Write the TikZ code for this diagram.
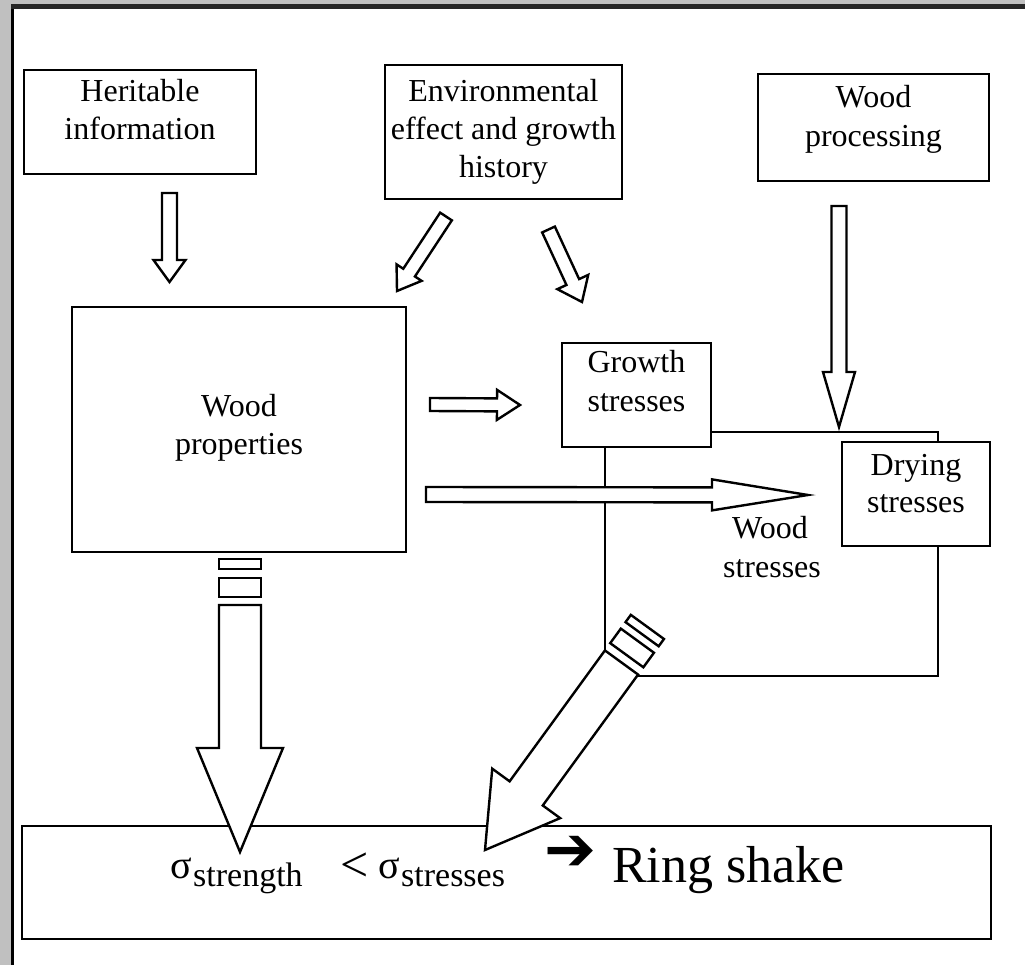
\documentclass[tikz,border=0pt]{standalone}
\usepackage{fontspec}
\setmainfont{Liberation Serif}
\newfontfamily\dejavu{DejaVu Sans}
\usetikzlibrary{calc}
\definecolor{framegray}{RGB}{192,192,192}
\newcommand\blockarrow[5]{% #1 tail, #2 tip, #3 shaft half width, #4 head half width, #5 head length
  \draw[arrowline] ($(#1)!#3!90:(#2)$) -- ($(#2)!#5!(#1)!#3!90:(#2)$) -- ($(#2)!#5!(#1)!#4!90:(#2)$) -- (#2)
    -- ($(#2)!#5!(#1)!#4!-90:(#2)$) -- ($(#2)!#5!(#1)!#3!-90:(#2)$) -- ($(#1)!#3!-90:(#2)$) -- cycle;}
\newcommand\gaprect[5]{% #1 tail, #2 tip, #3 near distance behind tail, #4 far distance, #5 half width
  \draw[arrowline] ($(#1)!#3!180:(#2)!#5!90:(#2)$) -- ($(#1)!#4!180:(#2)!#5!90:(#2)$)
    -- ($(#1)!#4!180:(#2)!#5!-90:(#2)$) -- ($(#1)!#3!180:(#2)!#5!-90:(#2)$) -- cycle;}
\begin{document}
\begin{tikzpicture}[x=1pt,y=-1pt,
  box/.style={draw=black, line width=2.8pt, fill=white, rectangle, inner sep=0pt},
  wsline/.style={draw=black, line width=2.6pt, rectangle, inner sep=0pt},
  arrowline/.style={draw=black, line width=2.4pt, fill=white, line join=miter},
  txt/.style={font=\fontsize{32}{38}\selectfont, inner sep=0pt, anchor=base},
  btxt/.style={inner sep=0pt, anchor=base west}]
\useasboundingbox (0,0) rectangle (1025,965);
% window frame
\fill[framegray] (0,0) rectangle (1025,965);
\fill[white] (14,9) rectangle (1025,965);
\draw[black, line width=3pt] (12.5,965) -- (12.5,4);
\draw[black!85, line width=4.5pt] (11,6.5) -- (1025,6.5);
% wood stresses frame
\node[wsline, minimum width=333pt, minimum height=244pt] (ws) at (771.5,554) {};
% boxes
\node[box, minimum width=232pt, minimum height=104pt] (her) at (140,122) {};
\node[box, minimum width=237pt, minimum height=134pt] (env) at (503.5,132) {};
\node[box, minimum width=231pt, minimum height=107pt] (proc) at (873.5,127.5) {};
\node[box, minimum width=334pt, minimum height=245pt] (prop) at (239,429.5) {};
\node[box, minimum width=149pt, minimum height=104pt] (grow) at (636.5,395) {};
\node[box, minimum width=148pt, minimum height=104pt] (dry) at (916,494) {};
\node[box, minimum width=969pt, minimum height=113pt] (res) at (506.5,882.5) {};
% arrow end points
\coordinate (a1t) at (169.5,193);   \coordinate (a1h) at (169.5,282);
\coordinate (a2t) at (446,216.5);   \coordinate (a2h) at (397,291);
\coordinate (a3t) at (548.5,229.5); \coordinate (a3h) at (582,302);
\coordinate (a4t) at (430,404.5);   \coordinate (a4h) at (520,405);
\coordinate (a5t) at (426,494.5);   \coordinate (a5h) at (808,495);
\coordinate (a6t) at (839,206);     \coordinate (a6h) at (839,427);
\coordinate (a7t) at (240,605);     \coordinate (a7h) at (240,852);
\coordinate (a8t) at (621.5,662.5); \coordinate (a8h) at (485,850);
% arrows
\blockarrow{a1t}{a1h}{7.5pt}{16pt}{22pt}
\blockarrow{a2t}{a2h}{7pt}{15pt}{22pt}
\blockarrow{a3t}{a3h}{7pt}{17pt}{22pt}
\blockarrow{a4t}{a4h}{6.5pt}{15pt}{23pt}
\blockarrow{a5t}{a5h}{7.5pt}{15.5pt}{96pt}
\blockarrow{a6t}{a6h}{7.5pt}{16pt}{55pt}
\blockarrow{a7t}{a7h}{21pt}{43pt}{104pt}
\gaprect{a7t}{a7h}{8pt}{27pt}{21pt}
\gaprect{a7t}{a7h}{36pt}{46pt}{21pt}
\blockarrow{a8t}{a8h}{20.5pt}{42pt}{70pt}
\gaprect{a8t}{a8h}{9pt}{27pt}{20.5pt}
\gaprect{a8t}{a8h}{35pt}{44pt}{20.5pt}
% texts
\node[txt] (her1) at (140,102) {Heritable};
\node[txt] (her2) at (140,140) {information};
\node[txt] (env1) at (503.5,102) {Environmental};
\node[txt] (env2) at (503.5,140) {effect and growth};
\node[txt] (env3) at (503.5,178) {history};
\node[txt] (proc1) at (873.5,108) {Wood};
\node[txt] (proc2) at (873.5,146.5) {processing};
\node[txt] (prop1) at (239,416) {Wood};
\node[txt] (prop2) at (239,454) {properties};
\node[txt] (grow1) at (636.5,373) {Growth};
\node[txt] (grow2) at (636.5,411.5) {stresses};
\node[txt] (dry1) at (916,475) {Drying};
\node[txt] (dry2) at (916,512) {stresses};
\node[txt] (ws1) at (770,538) {Wood};
\node[txt] (ws2) at (772,577) {stresses};
% result line
\node[btxt, font=\fontsize{40}{40}\selectfont] (sig1) at (170,878) {σ};
\node[btxt, font=\fontsize{34}{34}\selectfont] (sub1) at ($(sig1.base east)+(1,8)$) {strength};
\node[inner sep=0pt, font=\fontsize{50}{50}\selectfont] (lt) at (355,867) {<};
\node[btxt, font=\fontsize{40}{40}\selectfont] (sig2) at (378,878) {σ};
\node[btxt, font=\fontsize{34}{34}\selectfont] (sub2) at ($(sig2.base east)+(1,8)$) {stresses};
\node[inner sep=0pt, font=\dejavu\fontsize{62}{62}\selectfont] (arr) at (570,853) {➔};
\node[btxt, font=\fontsize{52}{52}\selectfont] (ring) at (612,882) {Ring shake};
\end{tikzpicture}
\end{document}
